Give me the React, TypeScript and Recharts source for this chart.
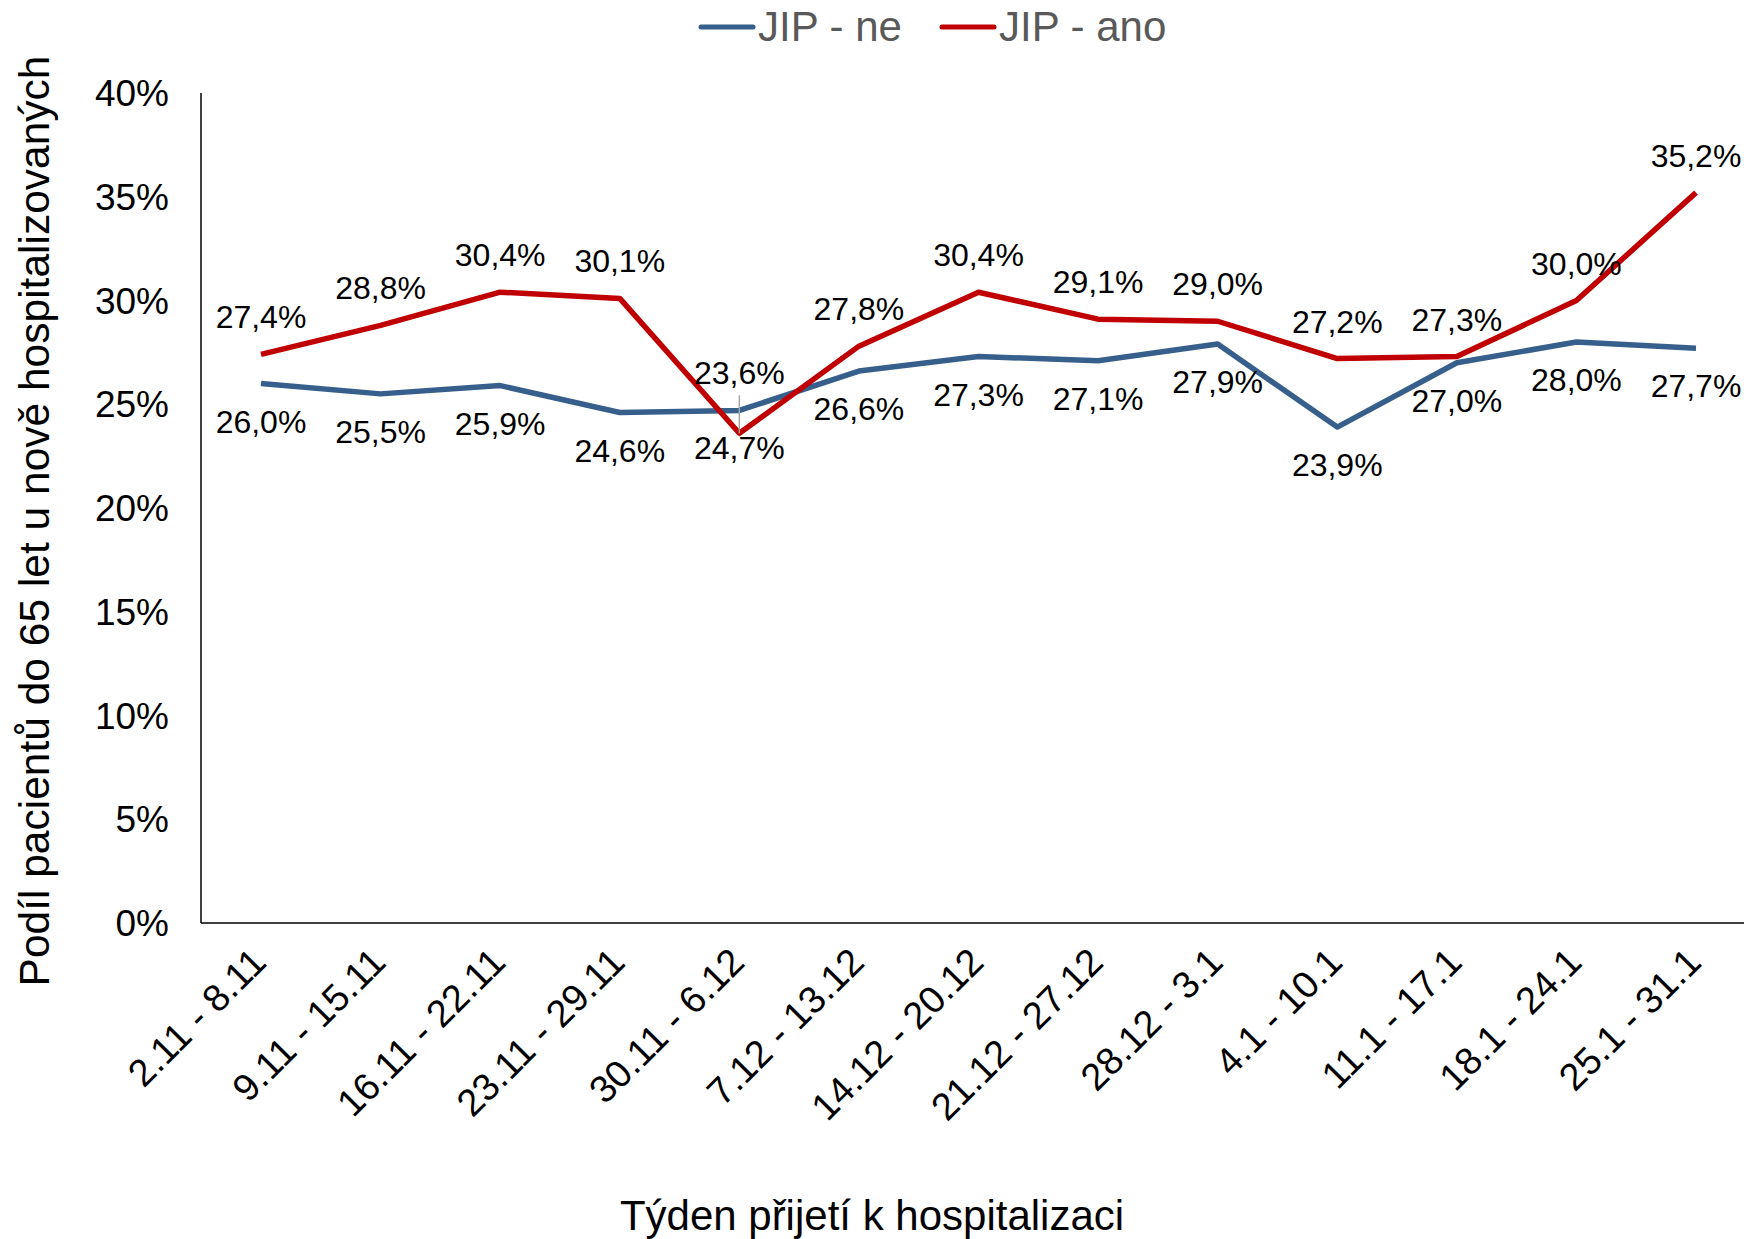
import { LineChart, Line, XAxis, YAxis, Legend, LabelList, Label } from 'recharts';

// týdny přijetí
const weeks = [
  '2.11 - 8.11',
  '9.11 - 15.11',
  '16.11 - 22.11',
  '23.11 - 29.11',
  '30.11 - 6.12',
  '7.12 - 13.12',
  '14.12 - 20.12',
  '21.12 - 27.12',
  '28.12 - 3.1',
  '4.1 - 10.1',
  '11.1 - 17.1',
  '18.1 - 24.1',
  '25.1 - 31.1',
];

// podíl pacientů do 65 let (%)
const jipNe = [26.0, 25.5, 25.9, 24.6, 24.7, 26.6, 27.3, 27.1, 27.9, 23.9, 27.0, 28.0, 27.7];
const jipAno = [27.4, 28.8, 30.4, 30.1, 23.6, 27.8, 30.4, 29.1, 29.0, 27.2, 27.3, 30.0, 35.2];

const yTicks = [0, 5, 10, 15, 20, 25, 30, 35, 40];

// popisek posunutý nahoru s vodicí čarou
const anoLeaderIdx = [4];

const FONT = '"Liberation Sans", Arial, sans-serif';
const BLUE = '#375f8b';
const RED = '#c00000';

const series = [
  { key: 'ne', name: 'JIP - ne', color: BLUE },
  { key: 'ano', name: 'JIP - ano', color: RED },
];

const data = weeks.map((week, i) => ({ week, ne: jipNe[i], ano: jipAno[i] }));

const fmt = (v: number) => `${v.toFixed(1).replace('.', ',')}%`;

function WeekTick({ x, y, payload }: any) {
  return (
    <g transform={`translate(${x - 2},${y + 24})`}>
      <text
        transform="rotate(-45)"
        textAnchor="end"
        dominantBaseline="central"
        fontSize={38}
        fontFamily={FONT}
        fill="#000"
      >
        {payload.value}
      </text>
    </g>
  );
}

function NeLabel({ x, y, value }: any) {
  return (
    <text x={x} y={y + 38} textAnchor="middle" dominantBaseline="central" fontSize={32} fontFamily={FONT} fill="#000">
      {fmt(value)}
    </text>
  );
}

function AnoLabel({ x, y, value, index }: any) {
  if (anoLeaderIdx.includes(index)) {
    return (
      <g>
        <line x1={x} y1={y - 38} x2={x} y2={y} stroke="#a6a6a6" strokeWidth={1.5} />
        <text x={x} y={y - 60} textAnchor="middle" dominantBaseline="central" fontSize={32} fontFamily={FONT} fill="#000">
          {fmt(value)}
        </text>
      </g>
    );
  }
  return (
    <text x={x} y={y - 37} textAnchor="middle" dominantBaseline="central" fontSize={32} fontFamily={FONT} fill="#000">
      {fmt(value)}
    </text>
  );
}

function renderLegend() {
  return (
    <div style={{ display: 'flex', alignItems: 'center', fontFamily: FONT, fontSize: 42, lineHeight: '42px', height: 42, color: '#595959' }}>
      {series.map((s, i) => (
        <div key={s.key} style={{ display: 'flex', alignItems: 'center', marginLeft: i > 0 ? 37 : 0 }}>
          <svg width={58} height={8} style={{ marginRight: 2 }}>
            <line x1={3} y1={4} x2={55} y2={4} stroke={s.color} strokeWidth={5} strokeLinecap="round" />
          </svg>
          <span>{s.name}</span>
        </div>
      ))}
    </div>
  );
}

export default function App() {
  return (
    <div style={{ position: 'absolute', left: 0, top: 0, width: 1744, height: 1239, background: '#fff', overflow: 'hidden', fontFamily: FONT }}>
      <LineChart width={1744} height={1239} data={data} margin={{ top: 51, right: 0, left: 0, bottom: 0 }}>
        <XAxis
          dataKey="week"
          interval={0}
          height={316}
          padding={{ left: 60, right: 48 }}
          axisLine={{ stroke: '#000', strokeWidth: 1.5 }}
          tickLine={false}
          tick={<WeekTick />}
        >
          <Label
            content={() => (
              <text x={872} y={1215} textAnchor="middle" dominantBaseline="central" fontSize={42} fontFamily={FONT} fill="#000">
                Týden přijetí k hospitalizaci
              </text>
            )}
          />
        </XAxis>
        <YAxis
          width={201}
          domain={[0, 40]}
          ticks={yTicks}
          interval={0}
          axisLine={{ stroke: '#000', strokeWidth: 1.5 }}
          tickLine={false}
          tickMargin={26}
          tick={{ fill: '#000', fontSize: 37, fontFamily: FONT }}
          tickFormatter={(v) => `${v}%`}
        >
          <Label
            content={() => (
              <text
                x={34}
                y={521}
                transform="rotate(-90 34 521)"
                textAnchor="middle"
                dominantBaseline="central"
                fontSize={42.5}
                fontFamily={FONT}
                fill="#000"
              >
                Podíl pacientů do 65 let u nově hospitalizovaných
              </text>
            )}
          />
        </YAxis>
        <Legend
          verticalAlign="top"
          content={renderLegend}
          wrapperStyle={{ top: 6, left: 698, width: 'auto' }}
        />
        <Line
          type="linear"
          dataKey="ne"
          name="JIP - ne"
          stroke={BLUE}
          strokeWidth={5.5}
          strokeLinejoin="round"
          dot={false}
          activeDot={false}
          isAnimationActive={false}
        >
          <LabelList dataKey="ne" content={<NeLabel />} />
        </Line>
        <Line
          type="linear"
          dataKey="ano"
          name="JIP - ano"
          stroke={RED}
          strokeWidth={5.5}
          strokeLinejoin="round"
          dot={false}
          activeDot={false}
          isAnimationActive={false}
        >
          <LabelList dataKey="ano" content={<AnoLabel />} />
        </Line>
      </LineChart>
    </div>
  );
}
